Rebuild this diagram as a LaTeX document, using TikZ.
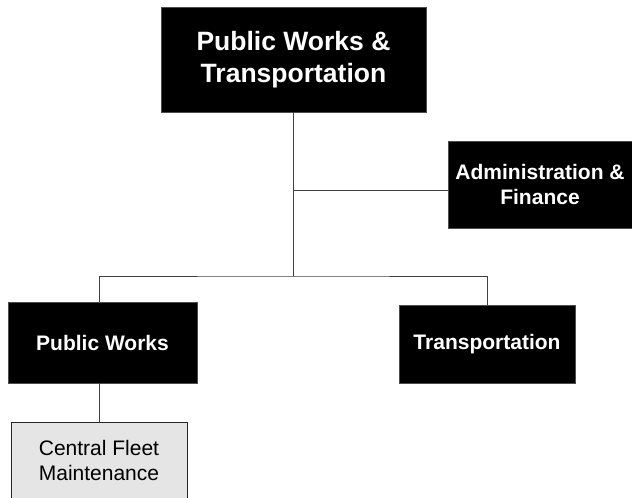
\documentclass[tikz,border=0pt]{standalone}
\usepackage{fontspec}
\setmainfont{Liberation Sans}
\begin{document}
\begin{tikzpicture}[x=1pt,y=-1pt,
  darkbox/.style={fill=black,draw=black!70,line width=0.8pt,text=white,font=\bfseries,align=center,inner sep=0pt},
  lightbox/.style={fill=black!10,draw=black!85,line width=1pt,inner sep=0pt},
  conn/.style={draw=black!75,line width=1pt}]
\useasboundingbox (0,0) rectangle (632,498);
\node[darkbox,minimum width=265,minimum height=105,font=\fontsize{26.5}{32}\selectfont\bfseries] (top) at (293.5,59.5) {Public Works \&\\Transportation};
\node[darkbox,minimum width=184,minimum height=87,font=\fontsize{21}{25.5}\selectfont\bfseries] (adm) at (540,184.5) {Administration \&\\Finance};
\node[darkbox,minimum width=189,minimum height=81,font=\fontsize{21}{25}\selectfont\bfseries] (pw) at (102.5,342.5) {Public Works};
\node[darkbox,minimum width=176,minimum height=78,font=\fontsize{21}{25}\selectfont\bfseries] (tr) at (487,344) {Transportation};
\node[lightbox,minimum width=176,minimum height=90,anchor=north] (cfm) at (99,422) {};
\node[align=center,inner sep=0pt,font=\fontsize{21}{25}\selectfont] (cfmtext) at (99,460) {Central Fleet\\Maintenance};
\coordinate (j1) at (293.5,276);
\coordinate (j2) at (293.5,190);
\draw[conn] (top.south) -- (j1);
\draw[conn] (j2) -- (j2 -| adm.west);
\draw[conn] (pw.north -| cfm.north) |- (j1) -| (tr.north);
\draw[conn] (pw.south -| cfm.north) -- (cfm.north);
\end{tikzpicture}
\end{document}
